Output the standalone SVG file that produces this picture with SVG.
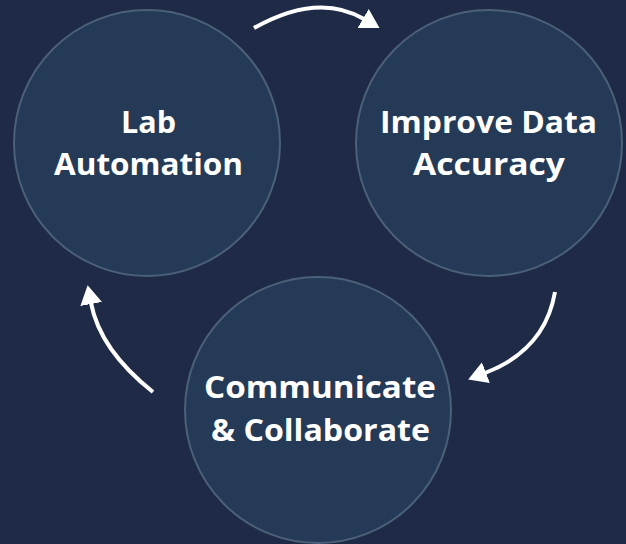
<svg xmlns="http://www.w3.org/2000/svg" width="626" height="544" viewBox="0 0 626 544">
<style>
.node{fill:#243a56;stroke:#4b6079;stroke-width:2}
.lbl{fill:#ffffff;font-family:"Open Sans","Liberation Sans",sans-serif;font-weight:700;font-size:30px;text-anchor:middle}
.arr{fill:none;stroke:#ffffff;stroke-width:4;marker-end:url(#ah)}
</style>
<defs>
<marker id="ah" markerUnits="userSpaceOnUse" markerWidth="20" markerHeight="24" viewBox="0 -12 20 24" refX="1" refY="0" orient="auto">
<path d="M0,-11 L19,0 L0,11 Z" fill="#ffffff"/>
</marker>
</defs>
<rect width="626" height="544" fill="#1f2b46"/>
<g id="lab-automation">
<circle class="node" cx="147" cy="143" r="133"/>
<text class="lbl" x="148.5" y="133" textLength="55" lengthAdjust="spacingAndGlyphs">Lab</text>
<text class="lbl" x="148.5" y="175" textLength="189" lengthAdjust="spacingAndGlyphs">Automation</text>
</g>
<g id="improve-data-accuracy">
<circle class="node" cx="489" cy="143" r="133"/>
<text class="lbl" x="488.5" y="133" textLength="217" lengthAdjust="spacingAndGlyphs">Improve Data</text>
<text class="lbl" x="489" y="175" textLength="152" lengthAdjust="spacingAndGlyphs">Accuracy</text>
</g>
<g id="communicate-collaborate">
<circle class="node" cx="318" cy="410" r="133"/>
<text class="lbl" x="320" y="398" textLength="232" lengthAdjust="spacingAndGlyphs">Communicate</text>
<text class="lbl" x="320.5" y="441" textLength="219" lengthAdjust="spacingAndGlyphs">&amp; Collaborate</text>
</g>
<g id="connectors">
<path class="arr" d="M254,28 Q318,-8 364,19"/>
<path class="arr" d="M555,292 Q545,350 485,373"/>
<path class="arr" d="M153,392 Q100,350 91,303"/>
</g>
</svg>
